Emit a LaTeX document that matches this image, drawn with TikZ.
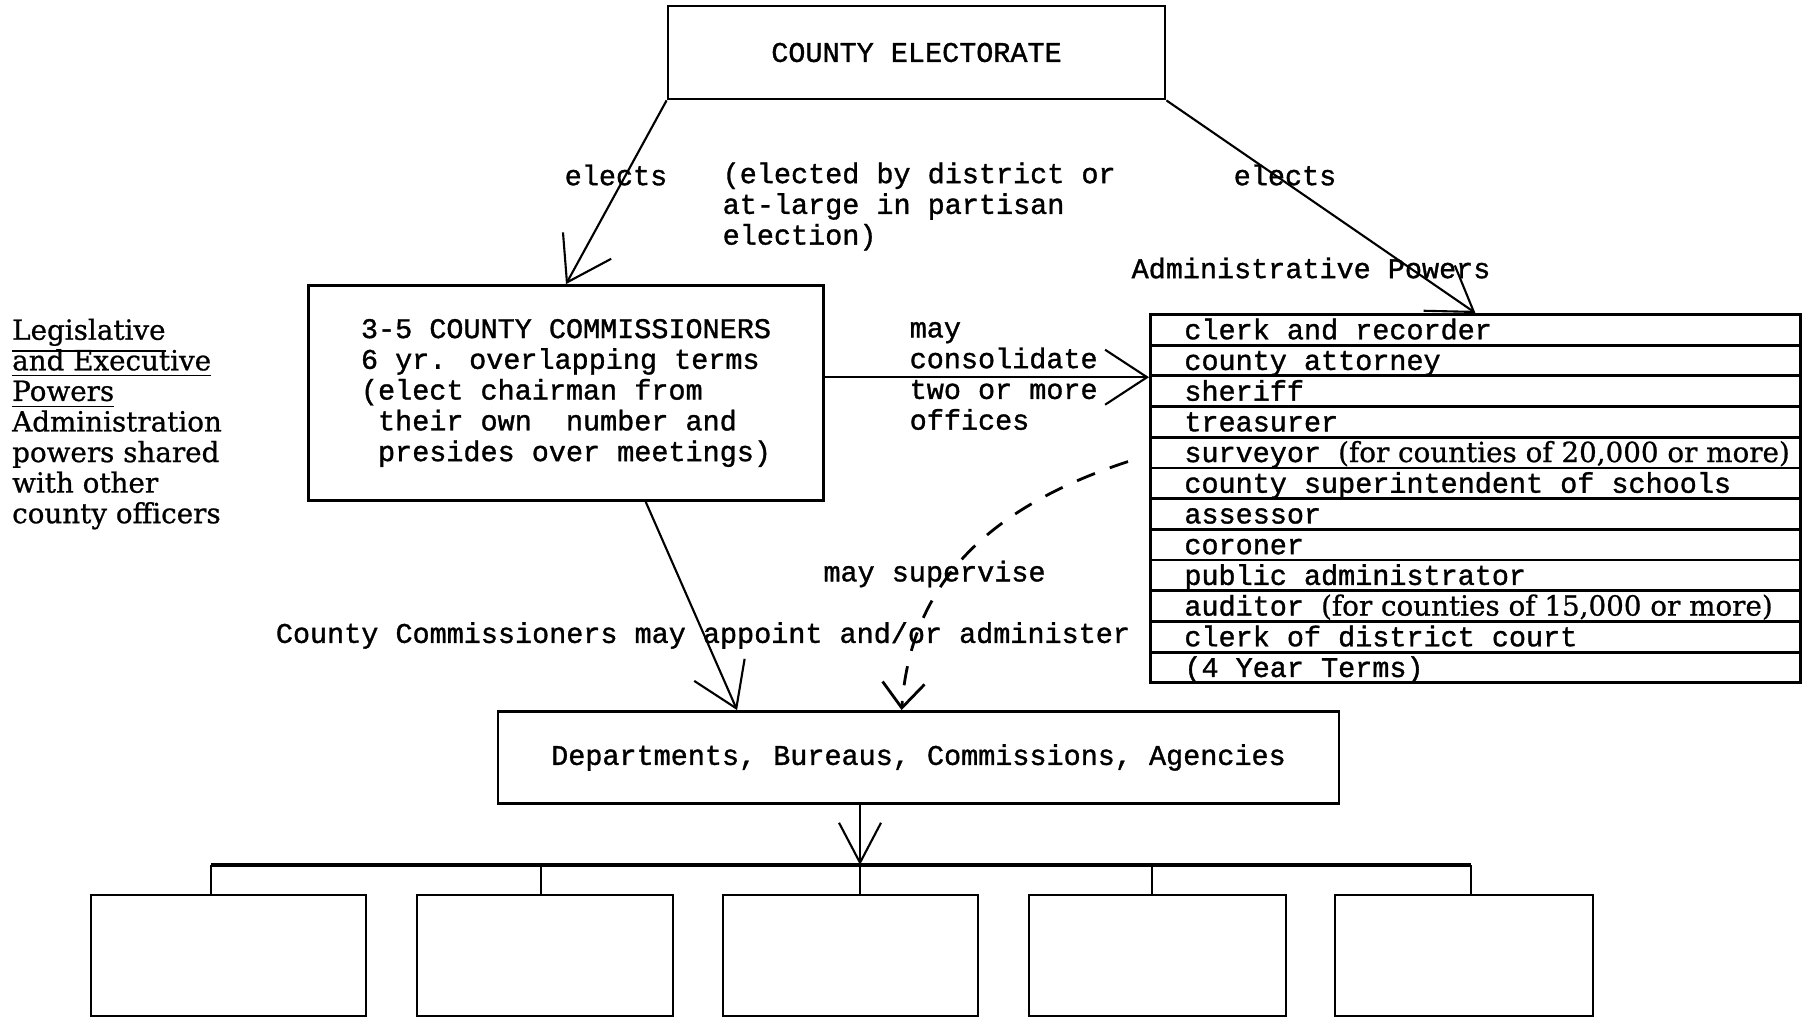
\documentclass[tikz,border=0pt]{standalone}
\usepackage{fontspec}
\setmainfont[FakeBold=1.2]{Liberation Mono}
\newfontfamily\propfont[FakeBold=0.8]{DejaVu Serif}
\usetikzlibrary{arrows.meta, calc}

\lineskiplimit=-10pt
\newcommand{\prop}[1]{{\propfont\fontsize{7.9}{8.75}\selectfont #1}}
\newcommand{\rowtext}[1]{\makebox[6.5cm][l]{\hspace*{0.34cm}#1}}

\tikzset{
    box/.style={draw, line width=0.8pt, inner sep=0pt},
    row/.style={draw, line width=0.8pt, inner sep=0pt, anchor=north west,
        minimum height=0.307cm, text height=0.22cm, text depth=0.03cm},
    arr/.style={line width=0.6pt, -{Straight Barb[length=0.42cm, width=0.55cm]}},
    txt/.style={inner sep=0pt, align=left},
}

\begin{document}
\begin{tikzpicture}[font=\fontsize{8.1}{8.75}\selectfont]
    \useasboundingbox (0,0) rectangle (18.05,-10.19);

    % boxes
    \node[box, minimum width=4.97cm, minimum height=0.93cm] (elec) at (9.165,-0.525) {COUNTY ELECTORATE};
    \node[box, minimum width=5.15cm, minimum height=2.15cm, align=left] (comm) at (5.66,-3.93)
        {3-5 COUNTY COMMISSIONERS\\ 6 yr. overlapping terms\\ (elect chairman from\\
         \hspace*{0.6em}their own\ \ number and\\ \hspace*{0.6em}presides over meetings)};
    \foreach \txt [count=\i] in {clerk and recorder, county attorney, sheriff, treasurer,
        {surveyor \prop{(for counties of 20,000 or more)}}, county superintendent of schools,
        assessor, coroner, public administrator, {auditor \prop{(for counties of 15,000 or more)}},
        clerk of district court, (4 Year Terms)}
        \node[row] (off\i) at (11.49,{-3.13-0.307*(\i-1)}) {\rowtext{\txt}};
    \node[box, minimum width=8.41cm, minimum height=0.92cm] (dept) at (9.185,-7.575)
        {Departments, Bureaus, Commissions, Agencies};
    \foreach \x/\w [count=\i] in {2.285/2.75, 5.45/2.56, 8.505/2.55, 11.575/2.57, 14.64/2.58}
        \node[box, minimum width=\w cm, minimum height=1.21cm] (b\i) at (\x,-9.555) {};

    % labels
    \node[txt] (el1) at (6.16,-1.75) {elects};
    \node[txt, anchor=west] (how) at (7.22,-2.065) {(elected by district or\\ at-large in partisan\\ election)};
    \node[txt] (el2) at (12.85,-1.75) {elects};
    \node[txt] (adm) at (13.11,-2.68) {Administrative Powers};
    \node[txt, anchor=west] (cons) at (9.09,-3.76) {may\\ consolidate\\ two or more\\ offices};
    \node[txt, anchor=west, font=\propfont\fontsize{7.9}{8.7}\selectfont] (leg) at (0.115,-4.24)
        {\underline{Legislative}\\ \underline{and Executive}\\ \underline{Powers}\\ Administration\\
         powers shared\\ with other\\ county officers};
    \node[txt] (sv) at (9.345,-5.74) {may supervise};
    \node[txt] (app) at (7.03,-6.355) {County Commissioners may appoint and/or administer};

    % connectors
    \draw[arr] (elec.south west) -- (comm.north);
    \draw[arr] (elec.south east) -- (off1.north);
    \draw[arr] (comm.east |- off2.south west) -- (off2.south west);
    \draw[arr] ($(comm.south west)!0.654!(comm.south east)$) -- ($(dept.north west)!0.285!(dept.north east)$);
    \coordinate (sup) at ($(off5.west)+(-0.21,-0.09)$);
    \draw[arr, line width=0.8pt, dash pattern=on 5.5pt off 4.5pt, -{Straight Barb[length=0.25cm, width=0.42cm]}]
        (sup) .. controls (9.8,-5.1) and (9.1,-5.9) .. ($(dept.north west)!0.48!(dept.north east)$);

    \foreach \x [count=\i] in {2.107, 5.41, 8.6, 11.52, 14.71}
        \coordinate (t\i) at (\x,-8.65);
    \draw[arr, -{Straight Barb[length=0.4cm, width=0.42cm]}] (t3 |- dept.south) -- (t3);
    \draw[line width=0.9pt] (t1) -- (t5);
    \foreach \i in {1,...,5}
        \draw[line width=0.6pt] (t\i) -- (t\i |- b\i.north);
\end{tikzpicture}
\end{document}
